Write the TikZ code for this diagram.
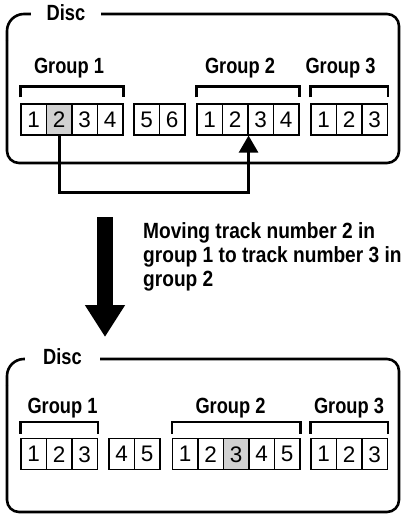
\documentclass[tikz,border=0pt]{standalone}
\usepackage{fontspec}
\setmainfont{Liberation Sans}
\newfontfamily\lblfont{Liberation Sans}[FakeStretch=0.83]
\newfontfamily\descfont{Liberation Sans}[FakeStretch=0.87]
\usetikzlibrary{arrows.meta}
\begin{document}
\begin{tikzpicture}[x=1pt,y=-1pt,
  trk/.style={draw, line width=1.1pt, fill=white, minimum width=25.5pt, minimum height=31pt, inner sep=0pt, font=\fontsize{22.5}{24}\selectfont},
  sel/.style={trk, fill=black!18},
  grp/.style={anchor=base, font=\lblfont\bfseries\fontsize{22}{24}\selectfont, inner sep=0pt},
  disc/.style={grp, fill=white, minimum width=70pt, inner ysep=2pt},
  brk/.style={line width=2.4pt},
  outer/.style={line width=2.6pt},
  conn/.style={line width=2.6pt, -{Triangle[width=19pt,length=17pt]}},
  big/.style={line width=16pt, -{Triangle[width=38pt,length=32pt]}}
]
\useasboundingbox (0,0) rectangle (404,517);
% ---------- top disc ----------
\draw[outer, rounded corners=12pt] (60,14) -| (399,163) -| (7,40);
\draw[outer, rounded corners=17pt] (7,40) |- (60,14);
\node[disc] (disc1) at (66,20.5) {Disc};
\node[grp] (ga1) at (69,73) {Group 1};
\node[grp] (ga2) at (240,73) {Group 2};
\node[grp] (ga3) at (340.5,73) {Group 3};
\foreach \i/\s in {1/trk,2/sel,3/trk,4/trk}
  \node[\s] (a\i) at ({21+25.5*(\i-0.5)},119.5) {\i};
\foreach \i/\n in {1/5,2/6}
  \node[trk] (l\i) at ({134+25.5*(\i-0.5)},119.5) {\n};
\foreach \i in {1,...,4}
  \node[trk] (b\i) at ({197+25.5*(\i-0.5)},119.5) {\i};
\foreach \i in {1,...,3}
  \node[trk] (c\i) at ({311+25.5*(\i-0.5)},119.5) {\i};
\draw[brk] ([yshift=6pt]a1.north west) -- ([yshift=17pt]a1.north west) -| ([yshift=6pt]a4.north east);
\draw[brk] ([yshift=6pt]b1.north west) -- ([yshift=17pt]b1.north west) -| ([yshift=6pt]b4.north east);
\draw[brk] ([yshift=6pt]c1.north west) -- ([yshift=17pt]c1.north west) -| ([yshift=6pt]c3.north east);
\draw[conn] (a2.south) -- ++(0,57) -| (b2.south east);
% ---------- move arrow ----------
\coordinate (atop) at (105,217);
\coordinate (atip) at (105,337);
\draw[big] (atop) -- (atip);
\node[anchor=north west, align=left, inner sep=0pt, font=\descfont\bfseries\fontsize{22}{24}\selectfont] (desc) at (143,222)
  {Moving track number 2 in\\group 1 to track number 3 in\\group 2};
% ---------- bottom disc ----------
\draw[outer, rounded corners=12pt] (60,359) -| (399,512) -| (7,385);
\draw[outer, rounded corners=17pt] (7,385) |- (60,359);
\node[disc, minimum width=75pt] (disc2) at (62.5,364) {Disc};
\node[grp] (gd1) at (62.5,413) {Group 1};
\node[grp] (gd2) at (230.5,413) {Group 2};
\node[grp] (gd3) at (349,413) {Group 3};
\foreach \i in {1,...,3}
  \node[trk] (d\i) at ({21+25.5*(\i-0.5)},454.25) {\i};
\foreach \i/\n in {1/4,2/5}
  \node[trk] (m\i) at ({109+25.5*(\i-0.5)},454.25) {\n};
\foreach \i/\s in {1/trk,2/trk,3/sel,4/trk,5/trk}
  \node[\s] (e\i) at ({172.5+25.5*(\i-0.5)},454.25) {\i};
\foreach \i in {1,...,3}
  \node[trk] (f\i) at ({311+25.5*(\i-0.5)},454.25) {\i};
\draw[brk] ([yshift=4.5pt]d1.north west) -- ([yshift=16.5pt]d1.north west) -| ([yshift=4.5pt]d3.north east);
\draw[brk] ([yshift=4.5pt]e1.north west) -- ([yshift=16.5pt]e1.north west) -| ([yshift=4.5pt]e5.north east);
\draw[brk] ([yshift=4.5pt]f1.north west) -- ([yshift=16.5pt]f1.north west) -| ([yshift=4.5pt]f3.north east);
\end{tikzpicture}
\end{document}
